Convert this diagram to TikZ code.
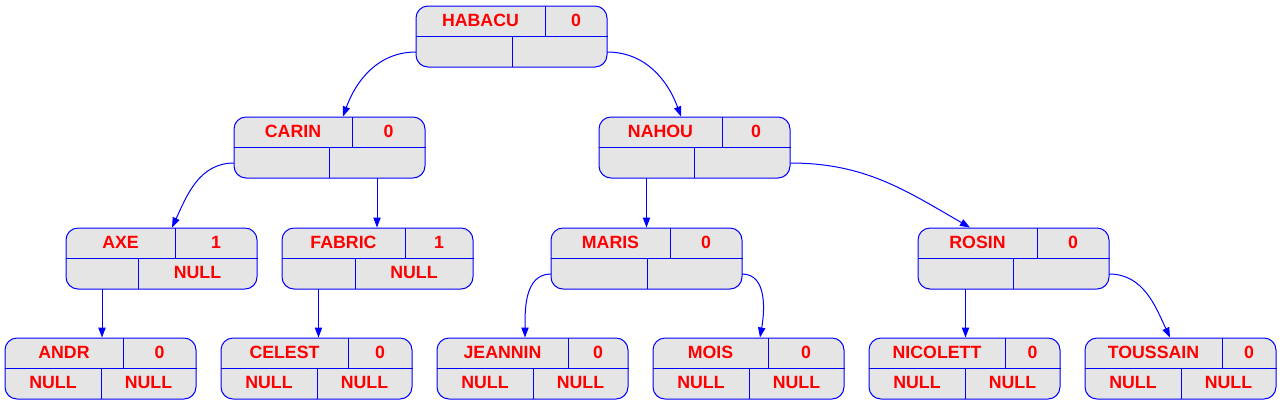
\documentclass[tikz,border=0pt]{standalone}
\usepackage{fontspec}
\setmainfont{Liberation Sans}
\usepackage{tikz}
\usetikzlibrary{arrows.meta, positioning, calc}
\usepackage{xcolor}
\definecolor{recblue}{RGB}{0,0,255}
\definecolor{recred}{RGB}{255,0,0}
\definecolor{recfill}{RGB}{229,229,229}

\tikzset{
  rec/.style={draw=recblue, fill=recfill, line width=0.75pt, rounded corners=9pt,
    minimum width=143.25pt, minimum height=45.75pt, inner sep=0pt},
  recline/.style={recblue, line width=0.75pt},
  txt/.style={text=recred, font=\bfseries\fontsize{13.3}{16}\selectfont, anchor=base, inner sep=0pt},
  edge/.style={recblue, line width=0.75pt, -{Triangle[length=7.5pt, width=5.5pt]}}
}

% record: name, left, top, key, value, top split, bottom split, left text, right text
\newcommand{\recnode}[9]{%
  \node[rec] (#1) at ({#2+95.5},{-#3-30.5}) {};
  \draw[recline] (#1.west) -- (#1.east);
  \draw[recline] ({#2+#6},{-#3}) -- ({#2+#6},{-#3-30.5});
  \draw[recline] ({#2+#7},{-#3-30.5}) -- ({#2+#7},{-#3-61});
  \node[txt] (#1-key) at ({#2+#6/2},{-#3-20}) {#4};
  \node[txt] (#1-val) at ({#2+(#6+191)/2},{-#3-20}) {#5};
  \node[txt] (#1-lt) at ({#2+#7/2},{-#3-50.5}) {#8};
  \node[txt] (#1-rt) at ({#2+(#7+191)/2},{-#3-50.5}) {#9};
  \coordinate (#1-l) at ({#2},{-#3-46});
  \coordinate (#1-r) at ({#2+191},{-#3-46});
  \coordinate (#1-bl) at ({#2+#7/2},{-#3-61});
  \coordinate (#1-br) at ({#2+(#7+191)/2},{-#3-61});
}

\begin{document}
\begin{tikzpicture}[x=0.75pt, y=0.75pt]
  \useasboundingbox (0,0) rectangle (1283,-405);
  % level 0 and 1
  \recnode{HABACU}{416}{6}{HABACU}{0}{129}{96}{}{}
  \recnode{CARIN}{234}{117}{CARIN}{0}{118}{95}{}{}
  \recnode{NAHOU}{599}{117}{NAHOU}{0}{123}{95}{}{}
  % level 2
  \recnode{AXE}{66}{228}{AXE}{1}{109}{72}{}{NULL}
  \recnode{FABRIC}{282}{228}{FABRIC}{1}{123}{73}{}{NULL}
  \recnode{MARIS}{551}{228}{MARIS}{0}{119}{96}{}{}
  \recnode{ROSIN}{918}{228}{ROSIN}{0}{119}{95}{}{}
  % leaves
  \recnode{ANDR}{5}{338}{ANDR}{0}{118}{96}{NULL}{NULL}
  \recnode{CELEST}{221}{338}{CELEST}{0}{127}{96}{NULL}{NULL}
  \recnode{JEANNIN}{437}{338}{JEANNIN}{0}{131}{96}{NULL}{NULL}
  \recnode{MOIS}{653}{338}{MOIS}{0}{115}{96}{NULL}{NULL}
  \recnode{NICOLETT}{869}{338}{NICOLETT}{0}{136}{96}{NULL}{NULL}
  \recnode{TOUSSAIN}{1085}{338}{TOUSSAIN}{0}{137}{96}{NULL}{NULL}

  % edges
  \draw[edge] (HABACU-l) to[out=180, in=70] ($(CARIN.north)+(13.5,0)$);
  \draw[edge] (HABACU-r) to[out=0, in=110] ($(NAHOU.north)+(-13.5,0)$);
  \draw[edge] (CARIN-l) to[out=180, in=65] ($(AXE.north)+(10.5,0)$);
  \draw[edge] (CARIN-br) -- (CARIN-br |- FABRIC.north);
  \draw[edge] (NAHOU-bl) -- (NAHOU-bl |- MARIS.north);
  \draw[edge] (NAHOU-r) to[out=0, in=150] ($(ROSIN.north)+(-43.5,0)$);
  \draw[edge] (AXE-bl) -- (AXE-bl |- ANDR.north);
  \draw[edge] (FABRIC-bl) -- (FABRIC-bl |- CELEST.north);
  \draw[edge] (MARIS-l) to[out=180, in=90] ($(JEANNIN.north)+(-7.5,0)$);
  \draw[edge] (MARIS-r) to[out=0, in=80] ($(MOIS.north)+(11.5,0)$);
  \draw[edge] (ROSIN-bl) -- (ROSIN-bl |- NICOLETT.north);
  \draw[edge] (ROSIN-r) to[out=0, in=115] ($(TOUSSAIN.north)+(-10.5,0)$);
\end{tikzpicture}
\end{document}
